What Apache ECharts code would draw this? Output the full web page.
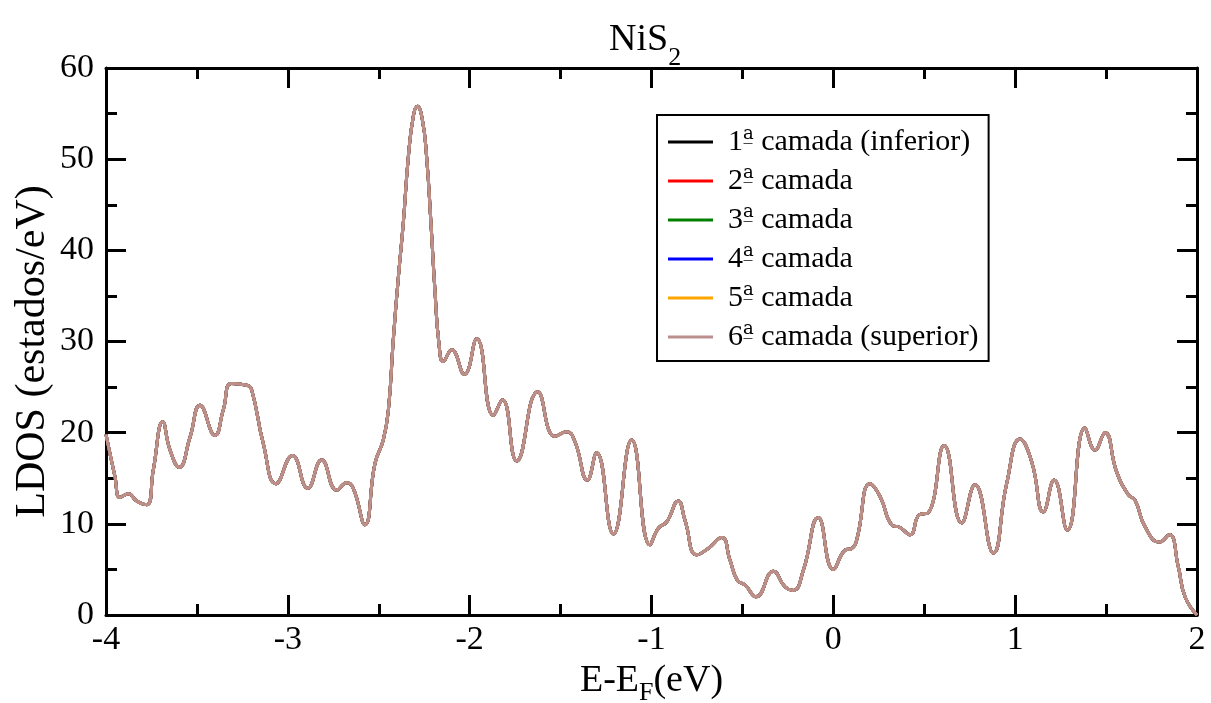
<!DOCTYPE html>
<html>
<head>
<meta charset="utf-8">
<script src="https://cdn.jsdelivr.net/npm/echarts@6/dist/echarts.min.js"></script>
<style>html,body{margin:0;padding:0;background:#fff}#c{width:1211px;height:703px}</style>
</head>
<body>
<div id="c"></div>
<script>
// Energy values E-E_F (eV)
const energy = [-4.000,-3.951,-3.923,-3.877,-3.831,-3.776,-3.740,-3.688,-3.648,-3.597,-3.538,-3.483,-3.401,-3.355,-3.309,-3.226,-3.199,-3.135,-3.065,-2.975,-2.891,-2.814,-2.731,-2.676,-2.640,-2.576,-2.521,-2.475,-2.447,-2.420,-2.392,-2.365,-2.337,-2.310,-2.288,-2.260,-2.237,-2.213,-2.191,-2.169,-2.145,-2.099,-2.029,-1.961,-1.870,-1.820,-1.741,-1.626,-1.531,-1.466,-1.421,-1.353,-1.302,-1.210,-1.109,-1.008,-0.963,-0.917,-0.853,-0.816,-0.751,-0.688,-0.614,-0.568,-0.528,-0.486,-0.425,-0.330,-0.266,-0.220,-0.165,-0.083,0.000,0.064,0.101,0.128,0.202,0.257,0.321,0.367,0.422,0.473,0.522,0.610,0.706,0.779,0.880,0.953,1.027,1.091,1.155,1.214,1.287,1.384,1.439,1.494,1.558,1.622,1.659,1.714,1.793,1.848,1.897,1.934,2.000];
// LDOS values (estados/eV)
const ldos = [19.8,15.2,12.9,13.3,12.5,12.1,15.9,21.2,18.1,16.2,19.5,23.0,19.7,22.5,25.4,25.2,24.7,18.8,14.4,17.5,13.9,17.0,13.7,14.5,13.9,9.9,16.6,19.2,22.5,30.2,37.1,43.0,50.3,54.7,55.8,54.3,50.3,43.0,35.6,29.8,27.8,29.1,26.4,30.3,21.9,23.6,16.9,24.5,19.6,20.1,19.0,14.8,17.8,8.9,19.2,7.7,9.5,10.2,12.5,10.4,6.6,7.3,8.5,6.0,3.8,3.3,2.0,4.8,3.1,2.7,4.9,10.7,5.0,7.1,7.3,8.2,14.4,13.0,9.9,9.6,8.8,11.0,11.2,18.6,10.1,14.3,6.8,14.4,19.3,16.8,11.3,14.8,9.3,20.5,18.1,20.0,15.7,13.2,12.6,9.7,8.0,8.8,5.3,2.0,0.0];
const layerNums = ['1','2','3','4','5','6'];
const layerTails = [' camada (inferior)',' camada',' camada',' camada',' camada',' camada (superior)'];
const layerNames = ['1ª camada (inferior)','2ª camada','3ª camada','4ª camada','5ª camada','6ª camada (superior)'];
const layerColors = ['#000000','#ff0000','#008000','#0000ff','#ffa500','#bc8f8f'];
const xTicks = [-4,-3,-2,-1,0,1,2];
const yTicks = [0,10,20,30,40,50,60];

const pts = energy.map((e,i)=>[e, ldos[i]]);
const FONT = '"Liberation Serif","DejaVu Serif",serif';

const baseAxis = {
  axisLine:{show:true, onZero:false, lineStyle:{color:'#000', width:3}},
  axisTick:{show:true, inside:true, length:20, lineStyle:{color:'#000', width:3}},
  minorTick:{show:true, splitNumber:2, length:11, lineStyle:{color:'#000', width:3}},
  splitLine:{show:false}, minorSplitLine:{show:false}
};

const chart = echarts.init(document.getElementById('c'), null, {renderer:'canvas'});
chart.setOption({
  animation:false,
  backgroundColor:'#fff',
  title:{
    text:'{a|NiS}{b|2}', left:604, top:10,
    textStyle:{fontWeight:'normal', rich:{
      a:{fontFamily:FONT, fontSize:38, fontWeight:'normal', color:'#000', verticalAlign:'bottom', lineHeight:44},
      b:{fontFamily:FONT, fontSize:26, fontWeight:'normal', color:'#000', padding:[0,0,-12,0], verticalAlign:'bottom', lineHeight:44}
    }}
  },
  graphic:[{
    type:'text', left:12, top:'middle', rotation:Math.PI/2, z:10,
    style:{text:'LDOS (estados/eV)', font:'42px "Liberation Serif", serif', fill:'#000'}
  }],
  grid:{left:106, right:14, top:68, bottom:88, outerBoundsMode:'none', containLabel:false},
  legend:{
    data:layerNames, orient:'vertical', left:657, top:115,
    padding:[10,10,7,11], itemGap:5, itemWidth:45, itemHeight:3,
    icon:'rect', borderColor:'#000', borderWidth:2, backgroundColor:'#fff',
    formatter:function(name){
      const i = layerNames.indexOf(name);
      return '{n|' + layerNums[i] + '}{s|a\u0332}{t|' + layerTails[i] + '}';
    },
    textStyle:{fontFamily:FONT, fontSize:30, color:'#000', lineHeight:34, padding:[0,0,0,10],
      rich:{
        n:{fontFamily:FONT, fontSize:30, color:'#000', lineHeight:34},
        s:{fontFamily:'"DejaVu Serif",serif', fontSize:18, color:'#000', lineHeight:22, verticalAlign:'top'},
        t:{fontFamily:FONT, fontSize:30, color:'#000', lineHeight:34}
      }}
  },
  xAxis:[
    Object.assign({}, baseAxis, {type:'value', min:-4, max:2, interval:1, position:'bottom',
      axisLabel:{fontFamily:FONT, fontSize:34, color:'#000', margin:8, formatter:v=>xTicks.includes(v)?String(v):''},
      name:'{a|E-E}{b|F}{a|(eV)}', nameLocation:'middle', nameGap:38,
      nameTextStyle:{rich:{
        a:{fontFamily:FONT, fontSize:38, color:'#000', verticalAlign:'bottom', lineHeight:42},
        b:{fontFamily:FONT, fontSize:26, color:'#000', verticalAlign:'bottom', lineHeight:42, padding:[0,0,-6,0]}
      }}}),
    Object.assign({}, baseAxis, {type:'value', min:-4, max:2, interval:1, position:'top', axisLabel:{show:false}})
  ],
  yAxis:[
    Object.assign({}, baseAxis, {type:'value', min:0, max:60, interval:10, position:'left',
      axisLabel:{fontFamily:FONT, fontSize:34, color:'#000', margin:12, formatter:v=>yTicks.includes(v)?String(v):''}}),
    Object.assign({}, baseAxis, {type:'value', min:0, max:60, interval:10, position:'right', axisLabel:{show:false}})
  ],
  series: layerNames.map((n,i)=>({
    name:n, type:'line', data:pts, showSymbol:false, smooth:0.5,
    lineStyle:{color:layerColors[i], width:3}, itemStyle:{color:layerColors[i]},
    xAxisIndex:0, yAxisIndex:0, z:2+i
  }))
});
</script>
</body>
</html>
